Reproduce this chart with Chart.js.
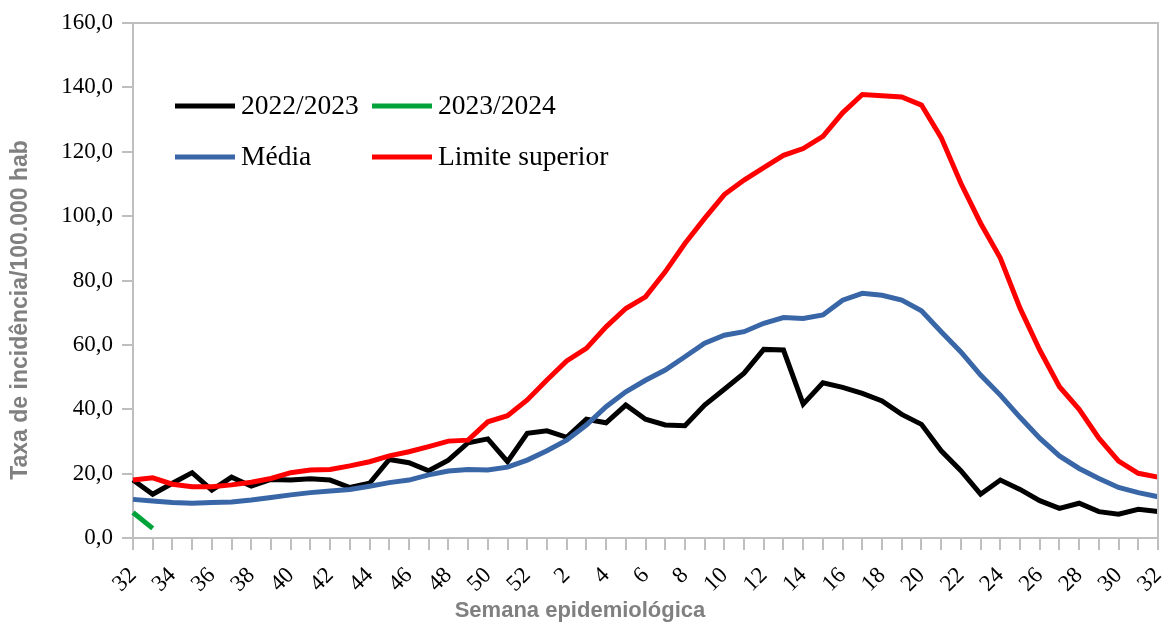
<!DOCTYPE html>
<html>
<head>
<meta charset="utf-8">
<script src="https://cdn.jsdelivr.net/npm/chart.js@4.4.1/dist/chart.umd.min.js"></script>
<style>
  html, body { margin: 0; padding: 0; background: #fff; }
  #wrap { width: 1162px; height: 624px; }
</style>
</head>
<body>
<div id="wrap"><canvas id="chart" width="1162" height="624"></canvas></div>
<script>
// Semanas epidemiológicas 32..52, 1..32
const weeks = ['32','33','34','35','36','37','38','39','40','41','42','43','44','45','46','47','48','49','50','51','52',
  '1','2','3','4','5','6','7','8','9','10','11','12','13','14','15','16','17','18','19','20','21','22','23','24','25','26','27','28','29','30','31','32'];

const season2223 = [18.0, 13.6, 17.0, 20.3, 14.9, 18.9, 16.1, 18.2, 18.0, 18.4, 18.0, 15.7, 17.0, 24.4, 23.4, 20.9, 24.2, 29.6, 30.8,
  23.7, 32.5, 33.3, 31.3, 36.9, 35.8, 41.3, 36.9, 35.1, 34.9, 41.3, 46.2, 51.2, 58.6, 58.4, 41.6, 48.2, 46.8, 44.9,
  42.6, 38.4, 35.3, 27.1, 20.9, 13.6, 18.0, 15.1, 11.6, 9.2, 10.8, 8.2, 7.4, 8.9, 8.2];

const season2324 = [7.9, 3.0];

const media = [12.0, 11.5, 11.0, 10.8, 11.0, 11.2, 11.8, 12.6, 13.4, 14.1, 14.6, 15.1, 16.1, 17.2, 18.0, 19.6, 20.8, 21.3, 21.1,
  22.0, 24.2, 27.1, 30.4, 35.1, 40.8, 45.4,
  49.0, 52.2, 56.3, 60.5, 63.0, 64.1, 66.7, 68.5, 68.2, 69.3, 73.9, 76.0, 75.4, 73.9, 70.6, 64.1,
  57.8, 50.6, 44.4, 37.5, 31.0, 25.5, 21.6, 18.5, 15.7, 14.1, 12.8];

const limiteSuperior = [18.0, 18.7, 16.7, 15.9, 15.9, 16.5, 17.3, 18.5, 20.3, 21.1, 21.3, 22.4, 23.7, 25.5, 26.8, 28.4, 30.1, 30.4, 36.1,
  38.0, 42.9, 49.1,
  55.0, 58.9, 65.6, 71.3, 74.9, 82.7, 91.5, 99.3, 106.7, 111.2, 115.1, 118.9, 121.0, 124.8, 132.1, 137.8, 137.4, 137.0, 134.5, 124.4,
  110.2, 97.8, 87.0, 71.4, 58.4, 47.0, 40.0, 31.0, 23.9, 20.1, 18.9];

const yTitle = 'Taxa de incidência/100.000 hab';
const xTitle = 'Semana epidemiológica';

const axisGray = '#bfbfbf';
const serif = '"Liberation Serif", "Times New Roman", serif';
const sans = '"Liberation Sans", Arial, sans-serif';

// frame, axis titles and in-plot legend
const extrasPlugin = {
  id: 'extras',
  afterDraw(chart) {
    const { ctx, chartArea: a } = chart;
    ctx.save();
    // top + right border of plot area
    ctx.strokeStyle = axisGray;
    ctx.lineWidth = 2;
    ctx.beginPath();
    ctx.moveTo(a.left, a.top);
    ctx.lineTo(a.right, a.top);
    ctx.lineTo(a.right, a.bottom);
    ctx.stroke();

    // axis titles
    ctx.fillStyle = '#808080';
    ctx.textAlign = 'center';
    ctx.textBaseline = 'middle';
    ctx.font = 'bold 22px ' + sans;
    ctx.fillText(xTitle, 580, 611);
    ctx.translate(21, 310);
    ctx.rotate(-Math.PI / 2);
    ctx.font = 'bold 23px ' + sans;
    ctx.fillText(yTitle, 0, 0);
    ctx.restore();

    // legend, two columns
    ctx.save();
    ctx.font = '27.5px ' + serif;
    ctx.textBaseline = 'middle';
    ctx.textAlign = 'left';
    const cols = [175, 372];
    const rows = [106, 157];
    chart.data.datasets.forEach((ds, i) => {
      const x = cols[i % 2], y = rows[Math.floor(i / 2)];
      ctx.strokeStyle = ds.borderColor;
      ctx.lineWidth = 5;
      ctx.beginPath();
      ctx.moveTo(x, y);
      ctx.lineTo(x + 60, y);
      ctx.stroke();
      ctx.fillStyle = '#000';
      ctx.fillText(ds.label, x + 66, y + 1);
    });
    ctx.restore();
  }
};

new Chart(document.getElementById('chart'), {
  type: 'line',
  data: {
    labels: weeks,
    datasets: [
      { label: '2022/2023', data: season2223, borderColor: '#000000', order: 4 },
      { label: '2023/2024', data: season2324, borderColor: '#00a33a', order: 3 },
      { label: 'Média', data: media, borderColor: '#3866a6', order: 2 },
      { label: 'Limite superior', data: limiteSuperior, borderColor: '#ff0000', order: 1 }
    ]
  },
  options: {
    responsive: false,
    animation: false,
    devicePixelRatio: 1,
    layout: { padding: { top: 23, right: 4, left: 0, bottom: 0 } },
    elements: {
      line: { borderWidth: 5, tension: 0, borderJoinStyle: 'miter', borderCapStyle: 'butt' },
      point: { radius: 0, hoverRadius: 0 }
    },
    plugins: {
      legend: { display: false },
      tooltip: { enabled: false }
    },
    scales: {
      x: {
        offset: false,
        afterFit: s => { s.height = 86; s.paddingRight = 0; s.paddingLeft = 0; },
        grid: { drawOnChartArea: false, drawTicks: true, tickLength: 12, color: axisGray, lineWidth: 2 },
        border: { display: true, color: axisGray, width: 2 },
        ticks: {
          autoSkip: false,
          maxRotation: 45,
          minRotation: 45,
          padding: 12,
          color: '#000',
          font: { family: serif, size: 23 },
          callback: function (v, i) { return i % 2 === 0 ? this.getLabelForValue(v) : ''; }
        }
      },
      y: {
        min: 0,
        max: 160,
        afterFit: s => { s.width = 133; },
        grid: { drawOnChartArea: false, drawTicks: true, tickLength: 11, color: axisGray, lineWidth: 2 },
        border: { display: true, color: axisGray, width: 2 },
        ticks: {
          stepSize: 20,
          padding: 9,
          color: '#000',
          font: { family: serif, size: 23 },
          callback: v => v.toFixed(1).replace('.', ',')
        }
      }
    }
  },
  plugins: [extrasPlugin]
});
</script>
</body>
</html>
